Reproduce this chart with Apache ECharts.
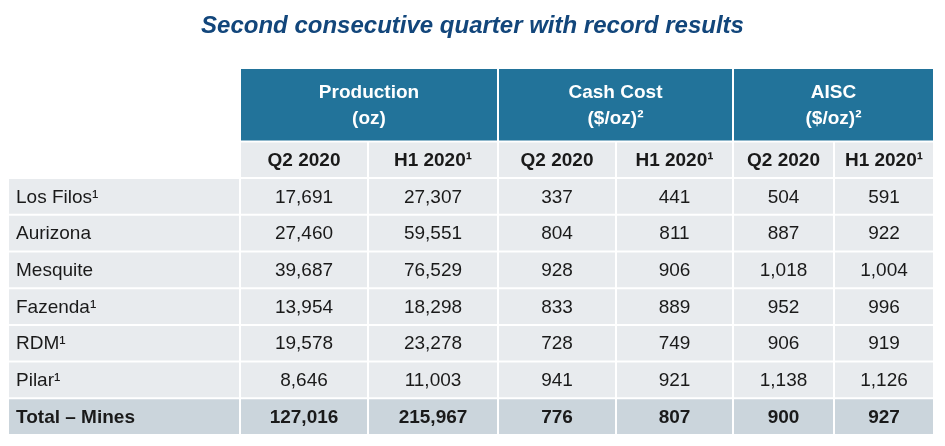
<!DOCTYPE html>
<html>
<head>
<meta charset="utf-8">
<script src="https://cdn.jsdelivr.net/npm/echarts@6/dist/echarts.min.js"></script>
<style>
html,body{margin:0;padding:0;background:#fff}
#main{width:945px;height:446px}
</style>
</head>
<body>
<div id="main"></div>
<script>
// table content
var mines = ['Los Filos¹', 'Aurizona', 'Mesquite', 'Fazenda¹', 'RDM¹', 'Pilar¹'];
var totalLabel = 'Total – Mines';
var groups = ['Production\n(oz)', 'Cash Cost\n($/oz)²', 'AISC\n($/oz)²'];
var periods = ['Q2 2020', 'H1 2020¹'];
var productionQ2 = [17691, 27460, 39687, 13954, 19578, 8646];
var productionH1 = [27307, 59551, 76529, 18298, 23278, 11003];
var cashCostQ2 = [337, 804, 928, 833, 728, 941];
var cashCostH1 = [441, 811, 906, 889, 749, 921];
var aiscQ2 = [504, 887, 1018, 952, 906, 1138];
var aiscH1 = [591, 922, 1004, 996, 919, 1126];
var totals = [127016, 215967, 776, 807, 900, 927];

// layout of the table (column widths in px, row heights in row units)
// rows: group header, period header, 6 mines, total
var colWidths = [232, 128, 130, 118, 117, 101, 100];
var rowHeights = [2, 1, 1, 1, 1, 1, 1, 1, 1];

var FONT = "'Liberation Sans', Arial, sans-serif";
var colors = {
	head: '#22739a',
	body: '#e8ebee',
	total: '#cbd5dc',
	text: '#1a1a1a'
};

function fmt(v){
	return v.toString().replace(/\B(?=(\d{3})+(?!\d))/g, ',');
}
function edges(list){
	var out = [0];
	for(var i=0;i<list.length;i++){
		out.push(out[i] + list[i]);
	}
	return out;
}
var colEdge = edges(colWidths);
var rowEdge = edges(rowHeights);

var columns = [productionQ2, productionH1, cashCostQ2, cashCostH1, aiscQ2, aiscH1];
var cells = [];
function addCell(c0, c1, r0, r1, text, kind){
	cells.push({value:[colEdge[c0], colEdge[c1], rowEdge[r0], rowEdge[r1]], text:text, kind:kind});
}
// group header
for(var g=0; g<groups.length; g++){
	addCell(1 + g*2, 3 + g*2, 0, 1, groups[g], 'head');
}
// period header
for(var c=0; c<columns.length; c++){
	addCell(c+1, c+2, 1, 2, periods[c % 2], 'sub');
}
// mine rows
for(var r=0; r<mines.length; r++){
	addCell(0, 1, r+2, r+3, mines[r], 'label');
	for(var c=0; c<columns.length; c++){
		addCell(c+1, c+2, r+2, r+3, fmt(columns[c][r]), 'cell');
	}
}
// total row
var totRow = mines.length + 2;
addCell(0, 1, totRow, totRow+1, totalLabel, 'totLabel');
for(var c=0; c<totals.length; c++){
	addCell(c+1, c+2, totRow, totRow+1, fmt(totals[c]), 'total');
}

function renderCell(params, api){
	var cell = cells[params.dataIndex];
	var p0 = api.coord([api.value(0), api.value(2)]);
	var p1 = api.coord([api.value(1), api.value(3)]);
	var x = p0[0] + 1, y = p0[1] + 1;
	var w = p1[0] - p0[0] - 2, h = p1[1] - p0[1] - 2;
	var k = cell.kind;
	var fill = k == 'head' ? colors.head : ((k == 'total' || k == 'totLabel') ? colors.total : colors.body);
	var left = (k == 'label' || k == 'totLabel');
	var bold = (k == 'head' || k == 'sub' || k == 'total' || k == 'totLabel');
	return {
		type: 'group',
		children: [{
			type: 'rect',
			shape: {x: x, y: y, width: w, height: h},
			style: {fill: fill}
		}, {
			type: 'text',
			style: {
				x: left ? x + 7 : x + w / 2,
				y: y + h / 2 + 1,
				text: cell.text,
				align: left ? 'left' : 'center',
				verticalAlign: 'middle',
				fontFamily: FONT,
				fontSize: 19,
				lineHeight: 26,
				fontWeight: bold ? 'bold' : 'normal',
				fill: k == 'head' ? '#ffffff' : colors.text
			}
		}]
	};
}

var myChart = echarts.init(document.getElementById('main'));
var option = {
	animation: false,
	title: {
		text: 'Second consecutive quarter with record results',
		left: 'center',
		top: 9,
		textStyle: {
			fontFamily: FONT,
			fontSize: 24,
			fontStyle: 'italic',
			fontWeight: 'bold',
			color: '#12467b'
		}
	},
	grid: {left: 8, top: 68, width: 926, height: 367, outerBoundsMode: 'none', containLabel: false},
	xAxis: {type: 'value', min: 0, max: colEdge[colEdge.length-1], show: false},
	yAxis: {type: 'value', min: 0, max: rowEdge[rowEdge.length-1], inverse: true, show: false},
	series: [{
		type: 'custom',
		renderItem: renderCell,
		encode: {x: [0, 1], y: [2, 3]},
		data: cells.map(function(d){ return d.value; })
	}]
};
myChart.setOption(option);
</script>
</body>
</html>
